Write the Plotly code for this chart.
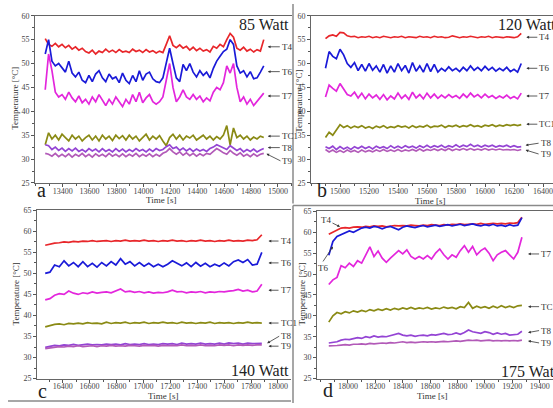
import numpy as np
import plotly.graph_objects as go

W, H = 553, 408
SERIF = "Liberation Serif, Times New Roman, serif"

# ---------------- data ----------------
# panel a (85 W): samples every 25 s from 13270 s
a_t0, a_dt = 13270, 25
a_T4 = [55.2, 54.0, 53.6, 54.2, 53.5, 54.0, 53.3, 53.8, 53.0, 53.5, 52.8, 53.2, 52.5, 52.2, 52.8, 52.0, 52.6, 52.3,
        53.0, 52.4, 52.8, 52.3, 52.9, 52.4, 52.6, 52.3, 53.0, 52.5, 52.8, 52.3, 52.9, 52.4, 52.7, 52.2, 52.6, 52.3,
        54.0, 55.8, 53.8, 53.3, 53.9, 53.2, 53.6, 52.8, 53.4, 52.7, 53.2, 52.6, 52.9, 52.4, 53.6, 53.2, 54.0, 53.5,
        55.0, 56.3, 55.5, 53.2, 52.8, 53.4, 52.6, 53.0, 52.4, 52.9, 52.6, 55.0]
a_T6 = [52.0, 55.0, 50.5, 49.5, 50.0, 49.2, 48.2, 50.5, 48.0, 47.2, 48.2, 46.5, 46.0, 47.5, 46.2, 47.8, 48.5, 47.0,
        46.2, 47.8, 46.8, 47.2, 46.0, 48.0, 46.5, 45.8, 47.5, 46.2, 48.5, 46.5, 47.8, 48.2, 46.8, 46.2, 46.0, 47.0,
        50.5, 53.2, 50.0, 47.0, 46.2, 49.8, 48.5, 50.0, 48.2, 47.2, 48.5, 47.5, 48.2, 47.0, 49.0, 50.5, 51.5, 52.5,
        53.0, 55.0, 54.0, 49.5, 48.0, 48.5, 47.2, 48.3, 46.8, 47.0, 48.2, 49.5]
a_T7 = [44.5, 52.0, 48.5, 44.0, 43.0, 43.5, 42.5, 44.0, 42.8, 42.0, 43.2, 41.8, 42.5, 41.5, 43.0, 42.0, 43.5, 42.2,
        41.2, 42.5, 41.5, 43.0, 42.0, 41.0, 42.5, 41.5, 43.5, 42.0, 44.0, 41.8, 42.8, 43.5, 42.0, 41.5, 42.0, 43.0,
        46.5, 50.0, 45.0, 42.0, 43.0, 44.5, 43.0, 42.5, 43.5, 42.5, 43.2, 42.0, 42.8, 42.2, 44.0, 45.0, 44.5, 46.0,
        49.5, 48.0, 50.0, 45.0, 42.0, 43.0, 41.5, 42.5, 41.2, 42.0, 42.8, 43.8]
a_TC1 = [33.0, 35.5, 34.2, 35.0, 34.0, 35.2, 34.5, 33.8, 35.0, 34.2, 34.8, 33.8, 34.5, 35.0, 34.0, 34.8, 33.8, 35.0,
         34.2, 34.8, 33.9, 35.0, 34.3, 34.9, 34.0, 35.0, 34.2, 34.8, 33.8, 34.6, 35.2, 34.0, 34.8, 34.2, 34.9, 33.8,
         32.8, 34.5, 35.2, 34.2, 35.0, 34.0, 34.8, 34.4, 35.0, 34.0, 34.6, 35.0, 34.2, 34.8, 34.0, 34.7, 34.2, 35.0,
         37.0, 33.0, 36.5, 34.5, 35.0, 34.2, 34.8, 34.0, 34.6, 34.2, 34.8, 34.5]
a_T8 = [33.0, 32.8, 32.0, 32.5, 31.8, 32.3, 31.6, 32.2, 31.7, 32.3, 31.6, 32.0, 31.5, 32.2, 31.7, 32.1, 31.5, 32.2,
        31.6, 32.0, 31.5, 32.2, 31.6, 32.1, 31.5, 32.0, 31.6, 32.2, 31.7, 32.0, 31.5, 32.1, 31.6, 32.2, 31.8, 32.0,
        32.6, 33.0, 32.2, 32.5, 31.8, 32.3, 31.7, 32.2, 31.6, 32.1, 31.7, 32.0, 31.6, 32.2, 32.5, 33.0, 32.7, 32.3,
        32.0, 32.8, 32.3, 31.8, 32.2, 31.5, 32.0, 31.6, 32.1, 31.5, 31.9, 32.2]
a_T9 = [31.2, 31.0, 30.6, 31.2, 30.5, 31.0, 30.5, 31.1, 30.4, 31.0, 30.6, 31.2, 30.5, 31.0, 30.4, 31.1, 30.6, 31.0,
        30.5, 31.2, 30.6, 31.0, 30.5, 31.1, 30.5, 31.0, 30.6, 31.2, 30.5, 31.0, 30.6, 31.1, 30.5, 31.0, 30.6, 31.2,
        31.5, 32.2, 31.5, 31.0, 31.5, 30.8, 31.3, 30.7, 31.2, 30.6, 31.1, 30.7, 31.2, 31.0, 31.6, 32.2, 31.8, 31.3,
        31.0, 31.8, 31.2, 30.8, 31.3, 30.6, 31.0, 30.5, 31.1, 30.6, 31.0, 31.2]

# panel b (120 W): samples every 25 s from 14900 s
b_t0, b_dt = 14900, 25
b_T4 = [55.2, 55.8, 56.0, 55.7, 56.5, 56.4, 55.8, 55.6, 55.7, 55.4, 55.6, 55.5, 55.7, 55.4, 55.6, 55.4, 55.7, 55.5,
        55.4, 55.6, 55.5, 55.7, 55.4, 55.6, 55.5, 55.4, 55.7, 55.5, 55.6, 55.4, 55.7, 55.5, 55.6, 55.4, 55.5, 55.8,
        55.6, 55.4, 55.6, 55.5, 55.7, 55.5, 55.4, 55.6, 55.5, 55.7, 55.4, 55.6, 55.5, 55.4, 55.6, 55.5, 55.4, 55.6, 56.3]
b_T6 = [49.0, 52.5, 51.5, 51.0, 53.0, 51.8, 50.0, 49.2, 50.2, 48.5, 49.8, 48.4, 50.0, 48.6, 49.5, 48.2, 49.8, 48.0,
        49.5, 48.2, 50.0, 48.5, 49.6, 48.0, 50.2, 48.4, 49.5, 48.2, 50.0, 48.3, 49.8, 48.2, 49.0, 48.4, 49.3, 48.5,
        49.0, 48.3, 49.2, 48.5, 49.5, 48.6, 49.2, 48.5, 49.4, 48.6, 49.2, 48.4, 49.0, 48.5, 49.2, 48.3, 48.8, 48.2, 50.0]
b_T7 = [43.0, 45.5, 44.8, 44.2, 45.8, 44.5, 43.5, 43.2, 44.0, 42.8, 43.8, 42.6, 43.6, 42.8, 43.4, 42.5, 43.5, 42.4,
        43.2, 42.6, 43.8, 42.7, 43.4, 42.5, 44.0, 42.8, 43.5, 42.6, 43.8, 42.8, 43.6, 42.7, 43.4, 42.8, 43.5, 42.9,
        43.3, 42.7, 43.6, 42.9, 43.8, 43.0, 43.5, 42.8, 43.6, 42.9, 43.3, 42.7, 43.2, 42.8, 43.4, 42.7, 43.1, 42.6, 43.8]
b_TC1 = [34.5, 35.6, 35.0, 36.2, 37.2, 36.6, 37.0, 36.5, 36.9, 36.6, 37.0, 36.5, 36.8, 36.4, 36.9, 36.6, 37.0, 36.5,
         36.8, 36.6, 37.0, 36.7, 36.9, 36.5, 37.0, 36.6, 36.9, 36.7, 37.1, 36.6, 36.9, 36.8, 37.1, 36.6, 37.0, 36.8,
         37.1, 36.7, 37.0, 36.8, 37.2, 36.8, 37.0, 36.7, 37.1, 36.9, 37.2, 36.8, 37.1, 36.9, 37.2, 37.0, 37.2, 37.0, 37.2]
b_T8 = [32.6, 32.2, 32.7, 32.0, 32.6, 32.1, 32.5, 32.0, 32.6, 32.2, 32.7, 32.2, 32.6, 32.1, 32.7, 32.3, 32.6, 32.2,
        32.8, 32.3, 32.7, 32.3, 32.8, 32.4, 32.7, 32.3, 32.8, 32.4, 32.9, 32.4, 32.8, 32.5, 32.9, 32.4, 32.8, 32.5,
        33.0, 32.5, 32.9, 32.6, 33.1, 32.6, 32.9, 32.5, 32.9, 32.6, 32.9, 32.5, 32.8, 32.6, 32.9, 32.5, 32.8, 32.5, 32.6]
b_T9 = [32.0, 31.5, 31.9, 31.4, 31.8, 31.4, 31.9, 31.5, 31.8, 31.4, 31.9, 31.5, 31.8, 31.5, 31.9, 31.6, 32.0, 31.6,
        31.9, 31.6, 32.0, 31.6, 31.9, 31.7, 32.0, 31.7, 32.1, 31.7, 32.0, 31.8, 32.1, 31.8, 32.1, 31.8, 32.2, 31.8,
        32.1, 31.9, 32.2, 31.9, 32.2, 31.9, 32.1, 31.9, 32.2, 31.9, 32.1, 31.9, 32.1, 31.9, 32.0, 31.9, 32.0, 31.8, 32.0]

# panel c (140 W): samples every 35 s from 16270 s
c_t0, c_dt = 16270, 35
c_T4 = [56.7, 57.0, 57.2, 57.3, 57.5, 57.4, 57.6, 57.5, 57.7, 57.6, 57.8, 57.6, 57.7, 57.8, 57.6, 57.8, 57.7, 57.9,
        57.7, 57.8, 57.7, 57.9, 57.7, 57.8, 57.6, 57.8, 57.7, 57.9, 57.7, 57.8, 57.6, 57.8, 57.7, 57.9, 57.7, 57.8,
        57.6, 57.8, 57.7, 57.9, 57.7, 57.8, 57.7, 57.9, 57.8, 58.0, 59.2]
c_T6 = [50.0, 50.3, 52.0, 51.6, 53.0, 51.8, 52.6, 51.6, 52.8, 51.6, 52.4, 51.5, 52.6, 51.8, 52.8, 52.0, 53.5, 52.2,
        52.8, 51.8, 52.6, 51.7, 52.4, 51.6, 52.2, 51.6, 52.2, 53.0, 52.4, 51.8, 52.5, 51.6, 52.6, 51.7, 52.4, 51.6,
        52.2, 51.7, 52.5, 51.8, 52.8, 53.2, 52.6, 53.3, 52.0, 52.2, 55.0]
c_T7 = [43.7, 44.0, 44.8, 45.2, 45.0, 45.8, 45.3, 45.0, 45.4, 45.2, 45.6, 45.3, 45.5, 45.6, 45.4, 45.8, 46.3, 45.6,
        45.8, 45.5, 45.7, 45.4, 45.6, 45.3, 45.5, 45.4, 45.6, 46.0, 45.6, 45.7, 45.4, 45.6, 45.5, 45.7, 45.4, 45.6,
        45.5, 45.7, 45.6, 45.8, 45.9, 46.2, 45.8, 46.0, 45.6, 45.8, 47.4]
c_TC1 = [37.3, 37.6, 37.9, 38.0, 37.8, 38.1, 38.0, 38.2, 38.0, 38.3, 38.1, 38.2, 38.0, 38.4, 38.1, 38.3, 38.2, 38.4,
         38.1, 38.3, 38.2, 38.4, 38.1, 38.3, 38.2, 38.4, 38.2, 38.3, 38.1, 38.4, 38.2, 38.3, 38.1, 38.3, 38.2, 38.4,
         38.1, 38.3, 38.2, 38.3, 38.1, 38.3, 38.2, 38.4, 38.2, 38.3, 38.2]
c_T8 = [32.4, 32.6, 32.9, 32.8, 33.0, 32.9, 33.1, 32.9, 33.0, 33.2, 33.0, 33.1, 33.0, 33.2, 33.1, 33.2, 33.0, 33.3,
        33.1, 33.2, 33.1, 33.3, 33.1, 33.2, 33.1, 33.3, 33.2, 33.3, 33.1, 33.4, 33.2, 33.3, 33.2, 33.4, 33.2, 33.3,
        33.2, 33.4, 33.2, 33.5, 33.3, 33.4, 33.2, 33.4, 33.3, 33.3, 33.4]
c_T9 = [32.1, 32.3, 32.5, 32.6, 32.5, 32.7, 32.6, 32.8, 32.6, 32.7, 32.8, 32.6, 32.8, 32.7, 32.9, 32.7, 32.8, 32.7,
        32.9, 32.8, 32.7, 32.9, 32.8, 32.9, 32.7, 32.9, 32.8, 32.9, 32.8, 33.0, 32.8, 32.9, 32.8, 33.0, 32.8, 32.9,
        32.8, 33.0, 32.9, 33.0, 32.8, 33.0, 32.9, 33.0, 32.9, 33.0, 33.0]

# panel d (175 W): samples every 30 s from 17860 s
d_t0, d_dt = 17860, 30
d_T4 = [59.5, 60.0, 60.6, 61.0, 61.1, 61.0, 61.2, 61.3, 61.2, 61.4, 61.3, 61.5, 61.4, 61.5, 61.3, 61.5, 61.6, 61.5,
        61.6, 61.5, 61.7, 61.6, 61.5, 61.7, 61.6, 61.8, 61.7, 61.6, 61.8, 61.7, 61.9, 61.8, 62.0, 61.8, 61.9, 62.0,
        61.9, 62.1, 61.9, 62.0, 62.1, 62.0, 62.1, 62.0, 62.2, 62.1, 62.3, 63.6]
d_T6 = [54.5, 57.8, 59.0, 59.5, 59.8, 60.3, 60.0, 60.6, 61.0, 61.2, 61.0, 61.4, 61.2, 60.8, 61.2, 61.4, 61.0, 60.6,
        61.2, 61.5, 61.3, 61.1, 61.4, 61.6, 61.3, 61.5, 61.7, 61.4, 61.6, 61.8, 61.5, 61.7, 61.9, 61.6, 61.8, 62.0,
        61.7, 61.5, 61.8, 61.6, 61.9, 61.5, 61.7, 61.4, 61.8, 61.5, 61.7, 63.5]
d_T7 = [47.5, 48.6, 49.2, 52.0, 51.5, 52.6, 51.8, 53.2, 52.6, 54.5, 56.5, 54.2, 55.5, 53.8, 52.8, 53.8, 54.8, 55.6,
        54.8, 55.8, 54.2, 53.6, 54.2, 53.6, 54.4, 53.6, 55.0, 56.0, 54.6, 53.6, 54.6, 54.0, 55.6, 56.8, 55.2, 56.6,
        54.6, 55.6, 56.2, 55.0, 53.2, 54.6, 55.2, 55.6, 54.6, 53.6, 55.2, 58.8]
d_TC1 = [38.5, 40.0, 40.8, 40.5, 41.0, 40.7, 41.2, 40.9, 41.3, 41.0, 41.5, 41.2, 41.6, 41.3, 41.7, 41.4, 41.8, 41.5,
         41.9, 41.6, 42.0, 41.6, 41.9, 41.7, 42.0, 41.6, 41.9, 41.7, 42.1, 41.8, 42.0, 41.7, 42.2, 42.0, 43.2, 41.8,
         42.3, 41.9, 42.2, 41.8, 42.3, 41.9, 42.4, 42.0, 42.3, 42.0, 42.4, 42.5]
d_T8 = [33.5, 33.6, 33.8, 34.2, 34.4, 34.3, 34.6, 34.8, 34.6, 35.0, 34.8, 35.2, 34.9, 35.1, 35.0, 35.3, 35.5, 35.8,
        35.4, 35.2, 35.4, 35.1, 35.3, 35.4, 35.2, 35.5, 35.4, 35.6, 35.8, 35.5, 35.6, 35.9, 35.6, 36.0, 36.6, 36.2,
        36.0, 35.8, 36.2, 36.0, 35.6, 35.9, 35.6, 35.8, 35.4, 35.5, 35.6, 36.3]
d_T9 = [32.8, 32.8, 32.9, 33.0, 33.1, 33.0, 33.2, 33.2, 33.3, 33.2, 33.4, 33.3, 33.4, 33.5, 33.4, 33.6, 33.5, 33.6,
        33.8, 33.6, 33.7, 33.6, 33.7, 33.8, 33.7, 33.8, 33.7, 33.8, 33.9, 33.8, 33.9, 34.0, 33.9, 34.1, 34.2, 34.1,
        34.2, 34.0, 34.1, 34.2, 34.0, 34.1, 34.0, 34.1, 34.0, 34.1, 34.0, 34.2]

series_names = ["T4", "T6", "T7", "TC1", "T8", "T9"]
colors = {"T4": "#e8262a", "T6": "#1a1ad8", "T7": "#e326dc", "TC1": "#8a8a14", "T8": "#9444d4", "T9": "#b25ab8"}
watts = ["85 Watt", "120 Watt", "140 Watt", "175 Watt"]
letters = ["a", "b", "c", "d"]
x_ticks = [list(range(13400, 15001, 200)), list(range(15000, 16401, 200)),
           list(range(16400, 18001, 200)), list(range(18000, 19401, 200))]

panels = [
    dict(t0=a_t0, dt=a_dt, data=[a_T4, a_T6, a_T7, a_TC1, a_T8, a_T9]),
    dict(t0=b_t0, dt=b_dt, data=[b_T4, b_T6, b_T7, b_TC1, b_T8, b_T9]),
    dict(t0=c_t0, dt=c_dt, data=[c_T4, c_T6, c_T7, c_TC1, c_T8, c_T9]),
    dict(t0=d_t0, dt=d_dt, data=[d_T4, d_T6, d_T7, d_TC1, d_T8, d_T9]),
]

# ---------------- layout (pixels) ----------------
def fx(p):
    return p / W

def fy(p):
    return 1 - p / H

geo = [  # x0, x1, ytop, ybot (px), x range, y range
    dict(x=(35, 292), y=(12, 183), xr=(13194, 15105), yr=(25, 60)),
    dict(x=(311, 553), y=(12, 183), xr=(14800, 16469), yr=(25, 60)),
    dict(x=(37, 291), y=(211, 383), xr=(16209, 18097), yr=(25, 65)),
    dict(x=(317, 553), y=(212, 383), xr=(17774, 19497), yr=(25, 65)),
]

fig = go.Figure()
for k, p in enumerate(panels):
    sx = "" if k == 0 else str(k + 1)
    for name, vals in zip(series_names, p["data"]):
        t = p["t0"] + p["dt"] * np.arange(len(vals))
        fig.add_trace(go.Scatter(x=t, y=vals, mode="lines", name=name, showlegend=False,
                                 line=dict(color=colors[name], width=1.7),
                                 xaxis="x" + sx, yaxis="y" + sx))
    g = geo[k]
    axfont = dict(family=SERIF, size=8, color="#444")
    fig.layout["xaxis" + sx] = dict(
        domain=[fx(g["x"][0]), fx(g["x"][1])], range=list(g["xr"]), anchor="y" + sx,
        tickvals=x_ticks[k], ticktext=[str(v) for v in x_ticks[k]],
        ticks="outside", ticklen=3, tickcolor="#555", ticklabelstandoff=-3,
        minor=dict(ticks="outside", ticklen=2, dtick=100, tickcolor="#555"),
        showline=True, linecolor="#666", linewidth=1, mirror=True, showgrid=False, zeroline=False,
        tickfont=axfont)
    fig.layout["yaxis" + sx] = dict(
        domain=[fy(g["y"][1]), fy(g["y"][0])], range=list(g["yr"]), anchor="x" + sx,
        dtick=5, ticks="outside", ticklen=3, tickcolor="#555",
        minor=dict(ticks="outside", ticklen=2, dtick=2.5, tickcolor="#555"),
        showline=True, linecolor="#666", linewidth=1, showgrid=False, zeroline=False,
        tickfont=axfont)

ann = []
# axis titles, panel letters, power labels
ttl = dict(family=SERIF, size=9, color="#333")
for (xc, yc) in [(161, 200), (430, 201), (163, 401), (432, 401)]:
    ann.append(dict(text="Time [s]", x=fx(xc), y=fy(yc), xref="paper", yref="paper",
                    showarrow=False, font=ttl, xanchor="center", yanchor="middle"))
for (xc, yc) in [(15, 97), (299, 100), (16, 297), (302, 297)]:
    ann.append(dict(text="Temperature [°C]", x=fx(xc), y=fy(yc), xref="paper", yref="paper",
                    showarrow=False, font=ttl, textangle=-90, xanchor="center", yanchor="middle"))
for L, (xc, yc) in zip(letters, [(41, 190), (322, 190), (42, 396), (328, 395)]):
    ann.append(dict(text=L, x=fx(xc), y=fy(yc), xref="paper", yref="paper", showarrow=False,
                    font=dict(family=SERIF, size=20, color="#222"), xanchor="center", yanchor="middle"))
for wt, (xr_, yc) in zip(watts, [(291, 21), (558, 21), (291, 375), (561, 376)]):
    ann.append(dict(text=wt, x=fx(xr_), y=fy(yc), xref="paper", yref="paper", showarrow=False,
                    font=dict(family=SERIF, size=16, color="#222"), xanchor="right", yanchor="middle"))

# series labels with arrows (tip in data coords, text offset in px)
lab = dict(family=SERIF, size=9, color="#333")
label_specs = [
    # panel, name, tip time, tip value, ax, ay
    (0, "T4", 14925, 53.5, 12, 0), (0, "T6", 14925, 48.3, 12, 0), (0, "T7", 14925, 43.2, 12, 0),
    (0, "TC1", 14925, 34.8, 12, 0), (0, "T8", 14925, 32.4, 12, 0), (0, "T9", 14915, 31.1, 14, 7),
    (1, "T4", 16285, 55.5, 11, 0), (1, "T6", 16285, 49.0, 11, 0), (1, "T7", 16285, 43.2, 11, 0),
    (1, "TC1", 16285, 37.3, 11, 0), (1, "T8", 16280, 32.9, 13, -2), (1, "T9", 16280, 31.9, 13, 4),
    (2, "T4", 17930, 57.7, 10, 0), (2, "T6", 17930, 52.5, 10, 0), (2, "T7", 17930, 46.0, 10, 0),
    (2, "TC1", 17930, 38.2, 10, 0), (2, "T8", 17920, 33.4, 12, -7), (2, "T9", 17930, 32.7, 10, 0),
    (3, "T7", 19315, 54.8, 11, 0), (3, "TC1", 19315, 42.2, 11, 0),
    (3, "T8", 19315, 36.0, 11, -2), (3, "T9", 19315, 34.0, 11, 2),
    (3, "T4", 17942, 61.3, -14, -7), (3, "T6", 17891, 56.6, -10, 15),
]
for k, name, tx, ty, ax, ay in label_specs:
    sx = "" if k == 0 else str(k + 1)
    ann.append(dict(text=name, x=tx, y=ty, xref="x" + sx, yref="y" + sx, showarrow=True,
                    ax=ax, ay=ay, arrowhead=2, arrowsize=0.7, arrowwidth=0.8, arrowcolor="#333",
                    standoff=0, font=lab, xanchor="left" if ax > 0 else "center",
                    yanchor="middle" if ay <= 0 or ax > 0 else "top"))

# frame lines of the montage
frame = dict(color="#8a8a8a", width=1.5)
shapes = [
    dict(type="line", xref="paper", yref="paper", x0=fx(293), x1=fx(293), y0=fy(0), y1=fy(204), line=frame),
    dict(type="line", xref="paper", yref="paper", x0=fx(293), x1=fx(553), y0=fy(206), y1=fy(206), line=frame),
    dict(type="line", xref="paper", yref="paper", x0=fx(293), x1=fx(293), y0=fy(206), y1=fy(408), line=frame),
    dict(type="line", xref="paper", yref="paper", x0=fx(8), x1=fx(291), y0=fy(406), y1=fy(406), line=frame),
]

fig.update_layout(width=W, height=H, margin=dict(l=0, r=0, t=0, b=0),
                  paper_bgcolor="white", plot_bgcolor="white",
                  annotations=ann, shapes=shapes, showlegend=False)

# remove the browser's default body margin so the figure sits at the window's top-left corner
fig.write_html("out.html", config={"displayModeBar": False},
               post_script="document.body.style.margin='0';document.body.style.overflow='hidden';")
